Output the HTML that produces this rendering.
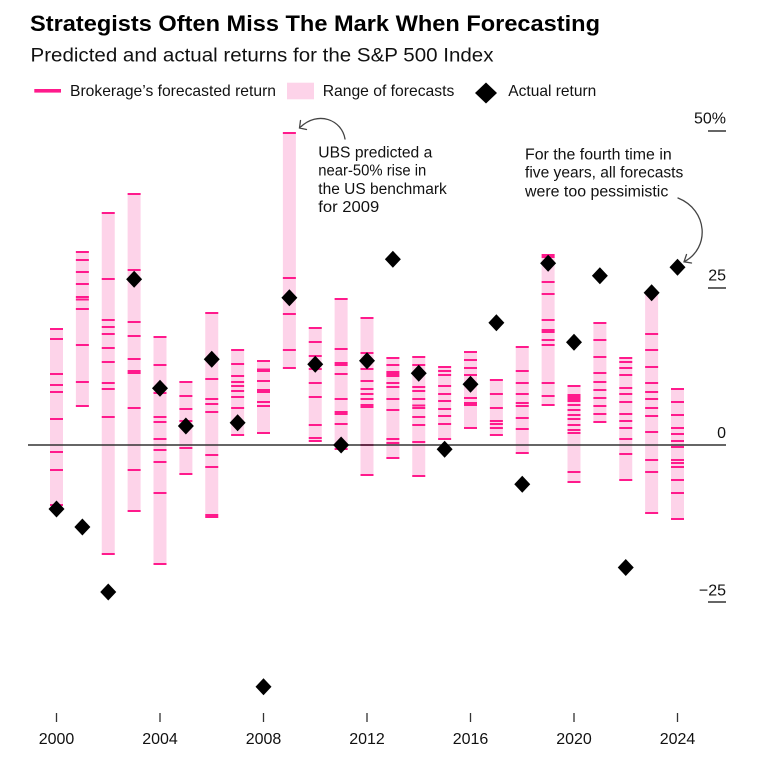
<!DOCTYPE html>
<html><head><meta charset="utf-8"><style>
html,body{margin:0;padding:0;background:#fff;}
svg{display:block;}
text{font-family:"Liberation Sans",Arial,sans-serif;}
</style></head><body>
<svg width="768" height="763" viewBox="0 0 768 763" xmlns="http://www.w3.org/2000/svg">
<rect width="768" height="763" fill="#fff"/>
<!-- Title -->
<text x="30" y="31" font-size="22" font-weight="bold" fill="#000" textLength="570" lengthAdjust="spacingAndGlyphs">Strategists Often Miss The Mark When Forecasting</text>
<text x="30.5" y="61.5" font-size="19" fill="#111" textLength="463" lengthAdjust="spacingAndGlyphs">Predicted and actual returns for the S&amp;P 500 Index</text>
<!-- Legend -->
<rect x="34.3" y="89" width="26.7" height="3.6" fill="#ff1a8c"/>
<text x="70" y="96" font-size="16" fill="#111" textLength="206" lengthAdjust="spacingAndGlyphs">Brokerage’s forecasted return</text>
<rect x="287" y="82.7" width="27" height="16.6" fill="#fdd3e9"/>
<text x="322.7" y="96" font-size="16" fill="#111" textLength="131.6" lengthAdjust="spacingAndGlyphs">Range of forecasts</text>
<polygon points="486,82.5 497,93 486,103.5 475,93" fill="#000"/>
<text x="508.3" y="96" font-size="16" fill="#111" textLength="88" lengthAdjust="spacingAndGlyphs">Actual return</text>

<!-- Y axis labels -->
<g font-size="16" fill="#111" text-anchor="end">
<text x="726" y="123.5">50%</text>
<text x="726" y="280.5">25</text>
<text x="726" y="438">0</text>
<text x="726" y="595.5">−25</text>
</g>
<g stroke="#333" stroke-width="1.5">
<line x1="708" y1="131" x2="726" y2="131"/>
<line x1="708" y1="288" x2="726" y2="288"/>
<line x1="708" y1="602" x2="726" y2="602"/>
</g>

<!-- Bars -->
<g fill="#fdd3e9">
<rect x="50" y="328" width="13" height="178"/>
<rect x="75.875" y="251" width="13" height="156"/>
<rect x="101.75" y="212" width="13" height="343"/>
<rect x="127.625" y="193" width="13" height="319"/>
<rect x="153.5" y="336" width="13" height="229"/>
<rect x="179.375" y="381" width="13" height="94"/>
<rect x="205.25" y="312" width="13" height="206"/>
<rect x="231.125" y="349" width="13" height="87"/>
<rect x="257" y="360" width="13" height="74"/>
<rect x="282.875" y="132" width="13" height="237"/>
<rect x="308.75" y="327" width="13" height="115"/>
<rect x="334.625" y="298" width="13" height="152"/>
<rect x="360.5" y="317" width="13" height="159"/>
<rect x="386.375" y="357" width="13" height="102"/>
<rect x="412.25" y="356" width="13" height="121"/>
<rect x="438.125" y="366" width="13" height="74"/>
<rect x="464" y="351" width="13" height="78"/>
<rect x="489.875" y="379" width="13" height="57"/>
<rect x="515.75" y="346" width="13" height="108"/>
<rect x="541.625" y="254" width="13" height="152"/>
<rect x="567.5" y="385" width="13" height="98"/>
<rect x="593.375" y="322" width="13" height="101"/>
<rect x="619.25" y="357" width="13" height="124"/>
<rect x="645.125" y="292" width="13" height="222"/>
<rect x="671" y="388" width="13" height="132"/>
</g>

<!-- Ticks -->
<g stroke="#ff1a8c" stroke-width="2" fill="none">
<path d="M50,329h13M50,339h13M50,374h13M50,385h13M50,392h13M50,419h13M50,452h13M50,470h13M50,505h13"/>
<path d="M75.875,252h13M75.875,260h13M75.875,272h13M75.875,284h13M75.875,297h13M75.875,299.5h13M75.875,309h13M75.875,345h13M75.875,382h13M75.875,406h13"/>
<path d="M101.75,213h13M101.75,279h13M101.75,320h13M101.75,327h13M101.75,334h13M101.75,348h13M101.75,362h13M101.75,383h13M101.75,389h13M101.75,417h13M101.75,554h13"/>
<path d="M127.625,194h13M127.625,270h13M127.625,322h13M127.625,336h13M127.625,359h13M127.625,371h13M127.625,373h13M127.625,408h13M127.625,470h13M127.625,511h13"/>
<path d="M153.5,337h13M153.5,365h13M153.5,393h13M153.5,417h13M153.5,422h13M153.5,439h13M153.5,450h13M153.5,462h13M153.5,493h13M153.5,564h13"/>
<path d="M179.375,382h13M179.375,396h13M179.375,409h13M179.375,421h13M179.375,448h13M179.375,474h13"/>
<path d="M205.25,313h13M205.25,379h13M205.25,399h13M205.25,404h13M205.25,412h13M205.25,455h13M205.25,467h13M205.25,515h13M205.25,517h13"/>
<path d="M231.125,350h13M231.125,364h13M231.125,376h13M231.125,382h13M231.125,386h13M231.125,391h13M231.125,397h13M231.125,408h13M231.125,435h13"/>
<path d="M257,361h13M257,369.5h13M257,371h13M257,381h13M257,390h13M257,392h13M257,402h13M257,406h13M257,433h13"/>
<path d="M282.875,133h13M282.875,278h13M282.875,314h13M282.875,350h13M282.875,368h13"/>
<path d="M308.75,328h13M308.75,342h13M308.75,356h13M308.75,369h13M308.75,383h13M308.75,397h13M308.75,425h13M308.75,438h13M308.75,441h13"/>
<path d="M334.625,299h13M334.625,349h13M334.625,363h13M334.625,365h13M334.625,374h13M334.625,399h13M334.625,412h13M334.625,414h13M334.625,424h13M334.625,449h13"/>
<path d="M360.5,318h13M360.5,353h13M360.5,369h13M360.5,381h13M360.5,389h13M360.5,394h13M360.5,399h13M360.5,405h13M360.5,407h13M360.5,445h13M360.5,475h13"/>
<path d="M386.375,358h13M386.375,365h13M386.375,372h13M386.375,374h13M386.375,376h13M386.375,383h13M386.375,387h13M386.375,399h13M386.375,410h13M386.375,439h13M386.375,443h13M386.375,458h13"/>
<path d="M412.25,357h13M412.25,365h13M412.25,387h13M412.25,391h13M412.25,399h13M412.25,405.5h13M412.25,408h13M412.25,417h13M412.25,425h13M412.25,442h13M412.25,476h13"/>
<path d="M438.125,367h13M438.125,371h13M438.125,375h13M438.125,386h13M438.125,394h13M438.125,401h13M438.125,409h13M438.125,416h13M438.125,424h13M438.125,439h13"/>
<path d="M464,352h13M464,360h13M464,368h13M464,375h13M464,398h13M464,403h13M464,405h13M464,428h13"/>
<path d="M489.875,380h13M489.875,394h13M489.875,408h13M489.875,421h13M489.875,424h13M489.875,428h13M489.875,435h13"/>
<path d="M515.75,347h13M515.75,371h13M515.75,383h13M515.75,394h13M515.75,403h13M515.75,406h13M515.75,418h13M515.75,429h13M515.75,453h13"/>
<path d="M541.625,255h13M541.625,257h13M541.625,282h13M541.625,294h13M541.625,320h13M541.625,330h13M541.625,332h13M541.625,340h13M541.625,345h13M541.625,383h13M541.625,396h13M541.625,405h13"/>
<path d="M567.5,386h13M567.5,395h13M567.5,397h13M567.5,399h13M567.5,401h13M567.5,405h13M567.5,410h13M567.5,415h13M567.5,419h13M567.5,425h13M567.5,430h13M567.5,433h13M567.5,472h13M567.5,482h13"/>
<path d="M593.375,323h13M593.375,340h13M593.375,357h13M593.375,373h13M593.375,382h13M593.375,390h13M593.375,398h13M593.375,406h13M593.375,414h13M593.375,422h13"/>
<path d="M619.25,358h13M619.25,362h13M619.25,368h13M619.25,375h13M619.25,388h13M619.25,394h13M619.25,402h13M619.25,414h13M619.25,421h13M619.25,428h13M619.25,439h13M619.25,454h13M619.25,480h13"/>
<path d="M645.125,293h13M645.125,334h13M645.125,350h13M645.125,367h13M645.125,383h13M645.125,392h13M645.125,399h13M645.125,408h13M645.125,416h13M645.125,432h13M645.125,460h13M645.125,472h13M645.125,513h13"/>
<path d="M671,389h13M671,402h13M671,415h13M671,428h13M671,434h13M671,441h13M671,447h13M671,460h13M671,463h13M671,467h13M671,480h13M671,493h13M671,519h13"/>
</g>

<!-- Zero line -->
<line x1="28" y1="445" x2="726" y2="445" stroke="#333" stroke-width="1.5"/>

<!-- Diamonds -->
<g fill="#000">
<polygon points="56.5,500.5 64.5,509 56.5,517.5 48.5,509"/>
<polygon points="82.375,518.5 90.375,527 82.375,535.5 74.375,527"/>
<polygon points="108.25,583.5 116.25,592 108.25,600.5 100.25,592"/>
<polygon points="134.125,270.8 142.125,279.3 134.125,287.8 126.125,279.3"/>
<polygon points="160,379.8 168,388.3 160,396.8 152,388.3"/>
<polygon points="185.875,417.5 193.875,426 185.875,434.5 177.875,426"/>
<polygon points="211.75,350.8 219.75,359.3 211.75,367.8 203.75,359.3"/>
<polygon points="237.625,414.2 245.625,422.7 237.625,431.2 229.625,422.7"/>
<polygon points="263.5,678.2 271.5,686.7 263.5,695.2 255.5,686.7"/>
<polygon points="289.375,289.2 297.375,297.7 289.375,306.2 281.375,297.7"/>
<polygon points="315.25,355.8 323.25,364.3 315.25,372.8 307.25,364.3"/>
<polygon points="341.125,436.5 349.125,445 341.125,453.5 333.125,445"/>
<polygon points="367,352.2 375,360.7 367,369.2 359,360.7"/>
<polygon points="392.875,250.8 400.875,259.3 392.875,267.8 384.875,259.3"/>
<polygon points="418.75,364.8 426.75,373.3 418.75,381.8 410.75,373.3"/>
<polygon points="444.625,440.8 452.625,449.3 444.625,457.8 436.625,449.3"/>
<polygon points="470.5,375.8 478.5,384.3 470.5,392.8 462.5,384.3"/>
<polygon points="496.375,314.2 504.375,322.7 496.375,331.2 488.375,322.7"/>
<polygon points="522.25,475.8 530.25,484.3 522.25,492.8 514.25,484.3"/>
<polygon points="548.125,254.8 556.125,263.3 548.125,271.8 540.125,263.3"/>
<polygon points="574,333.8 582,342.3 574,350.8 566,342.3"/>
<polygon points="599.875,267.2 607.875,275.7 599.875,284.2 591.875,275.7"/>
<polygon points="625.75,559 633.75,567.5 625.75,576 617.75,567.5"/>
<polygon points="651.625,284.2 659.625,292.7 651.625,301.2 643.625,292.7"/>
<polygon points="677.5,258.8 685.5,267.3 677.5,275.8 669.5,267.3"/>
</g>

<!-- Annotations -->
<g font-size="15.5" fill="#111">
<text x="318.3" y="157.3" textLength="114" lengthAdjust="spacingAndGlyphs">UBS predicted a</text>
<text x="318.3" y="175.7" textLength="108" lengthAdjust="spacingAndGlyphs">near-50% rise in</text>
<text x="318.3" y="193.8" textLength="128.5" lengthAdjust="spacingAndGlyphs">the US benchmark</text>
<text x="318.3" y="212" textLength="61" lengthAdjust="spacingAndGlyphs">for 2009</text>
<text x="525" y="159.3" textLength="146.7" lengthAdjust="spacingAndGlyphs">For the fourth time in</text>
<text x="525" y="177.7" textLength="158.3" lengthAdjust="spacingAndGlyphs">five years, all forecasts</text>
<text x="525" y="196.3" textLength="143.3" lengthAdjust="spacingAndGlyphs">were too pessimistic</text>
</g>
<g stroke="#444" stroke-width="1.3" fill="none" stroke-linecap="round">
<path d="M345,139 C342,120 318,110 300,127.5"/>
<path d="M300.5,120.5 L299.5,128 L306.5,129.5"/>
<path d="M678,198 C708,210 710,248 684.5,261.5"/>
<path d="M686.5,254.5 L684,261.8 L691.5,263"/>
</g>

<!-- X axis -->
<g stroke="#333" stroke-width="1.3">
<line x1="56.5" y1="713" x2="56.5" y2="722"/>
<line x1="160" y1="713" x2="160" y2="722"/>
<line x1="263.5" y1="713" x2="263.5" y2="722"/>
<line x1="367" y1="713" x2="367" y2="722"/>
<line x1="470.5" y1="713" x2="470.5" y2="722"/>
<line x1="574" y1="713" x2="574" y2="722"/>
<line x1="677.5" y1="713" x2="677.5" y2="722"/>
</g>
<g font-size="16" fill="#111" text-anchor="middle">
<text x="56.5" y="744">2000</text>
<text x="160" y="744">2004</text>
<text x="263.5" y="744">2008</text>
<text x="367" y="744">2012</text>
<text x="470.5" y="744">2016</text>
<text x="574" y="744">2020</text>
<text x="677.5" y="744">2024</text>
</g>
</svg>
</body></html>
